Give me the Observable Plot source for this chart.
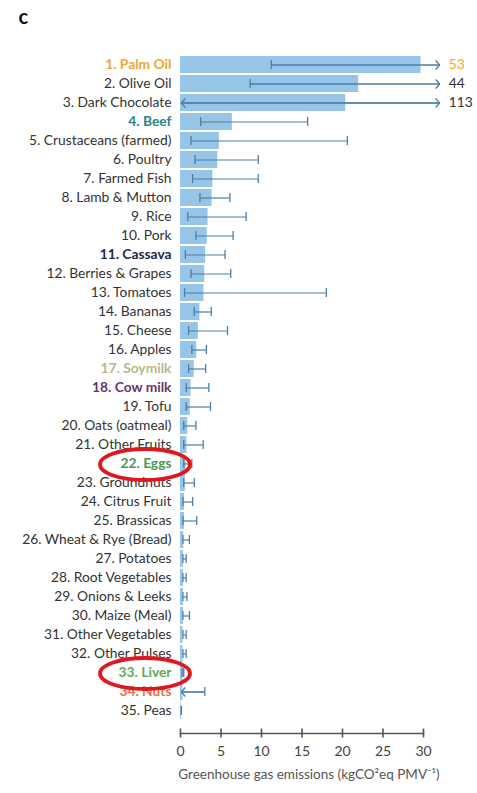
<!DOCTYPE html>
<html>
<head>
<meta charset="utf-8">
<script src="https://cdn.jsdelivr.net/npm/d3@7"></script>
<script src="https://cdn.jsdelivr.net/npm/@observablehq/plot@0.6"></script>
<style>
  html, body { margin: 0; padding: 0; background: #fff; }
</style>
</head>
<body>
<div id="chart"></div>
<script>
// Foods ranked by greenhouse gas emissions per PMV
const foods = [
  "1. Palm Oil", "2. Olive Oil", "3. Dark Chocolate", "4. Beef",
  "5. Crustaceans (farmed)", "6. Poultry", "7. Farmed Fish", "8. Lamb & Mutton",
  "9. Rice", "10. Pork", "11. Cassava", "12. Berries & Grapes",
  "13. Tomatoes", "14. Bananas", "15. Cheese", "16. Apples",
  "17. Soymilk", "18. Cow milk", "19. Tofu", "20. Oats (oatmeal)",
  "21. Other Fruits", "22. Eggs", "23. Groundnuts", "24. Citrus Fruit",
  "25. Brassicas", "26. Wheat & Rye (Bread)", "27. Potatoes", "28. Root Vegetables",
  "29. Onions & Leeks", "30. Maize (Meal)", "31. Other Vegetables", "32. Other Pulses",
  "33. Liver", "34. Nuts", "35. Peas"
];

// Central estimate (bar) and the low / high ends of the range (whisker)
const emissions = [
  29.7, 22.0, 20.4, 6.4, 4.8, 4.6, 4.0, 3.9,
  3.4, 3.3, 3.1, 3.0, 2.9, 2.4, 2.2, 2.0,
  1.7, 1.3, 1.2, 0.9, 0.8, 0.7, 0.6, 0.5,
  0.5, 0.4, 0.35, 0.35, 0.35, 0.35, 0.3, 0.3,
  0.3, 0.3, 0.1
];
const lowEnd = [
  11.2, 8.6, -5, 2.5, 1.3, 1.8, 1.5, 2.4,
  0.9, 1.9, 0.6, 1.3, 0.5, 1.7, 1.0, 1.4,
  1.0, 0.7, 0.7, 0.4, 0.4, 0.4, 0.4, 0.3,
  0.3, 0.3, 0.3, 0.3, 0.3, 0.3, 0.3, 0.3,
  0.2, -2, 0.1
];
const highEnd = [
  53, 44, 113, 15.7, 20.6, 9.6, 9.6, 6.1,
  8.1, 6.5, 5.5, 6.2, 18.0, 3.8, 5.8, 3.2,
  3.1, 3.5, 3.7, 1.9, 2.8, 1.4, 1.7, 1.5,
  2.0, 1.1, 0.7, 0.7, 0.8, 1.1, 0.7, 0.7,
  0.4, 3.0, 0.1
];

// Highlighted foods
const highlightColors = {
  "1. Palm Oil": "#f0a733",
  "4. Beef": "#2b8489",
  "11. Cassava": "#1d2a4e",
  "17. Soymilk": "#b7b78e",
  "18. Cow milk": "#6b3567",
  "22. Eggs": "#4a9a4e",
  "33. Liver": "#5aad55",
  "34. Nuts": "#e8704a"
};
const circled = ["22. Eggs", "33. Liver"];

const xTicks = [0, 5, 10, 15, 20, 25, 30];
const axisTitle = "Greenhouse gas emissions (kgCO²eq PMV⁻¹)";

// Whiskers past the axis end are cut off at xCap with an arrow; below zero at xFloor
const xCap = 32;
const xFloor = 0.1;

const rows = foods.map((name, i) => ({
  name,
  value: emissions[i],
  lo: lowEnd[i],
  hi: highEnd[i],
  x1: Math.max(lowEnd[i], xFloor),
  x2: Math.min(highEnd[i], xCap)
}));

const whisker = "#4b7fa9";
const textColor = "#333";

// Open chevron arrowhead for truncated whiskers
function chevron(color) {
  const m = d3.create("svg:marker")
    .attr("viewBox", "-6 -6 12 12")
    .attr("markerWidth", 12)
    .attr("markerHeight", 12)
    .attr("markerUnits", "userSpaceOnUse")
    .attr("orient", "auto-start-reverse");
  m.append("path")
    .attr("d", "M-4,-4.5L0,0L-4,4.5")
    .attr("fill", "none")
    .attr("stroke", color)
    .attr("stroke-width", 1.3);
  return m.node();
}

const plot = Plot.plot({
  width: 477,
  height: 793,
  marginLeft: 180,
  marginRight: 54,
  marginTop: 42,
  marginBottom: 60,
  style: {fontFamily: "Lato, 'Open Sans', sans-serif", fontSize: "13.8px", background: "#fff"},
  x: {domain: [0, 30]},
  y: {domain: foods, paddingInner: 0.12, paddingOuter: 0.225, axis: null},
  marks: [
    Plot.barX(rows, {y: "name", x: "value", fill: "#97c5e7"}),
    Plot.link(rows, {x1: "x1", x2: "x2", y1: "name", y2: "name", stroke: whisker, strokeWidth: 1.2}),
    Plot.tickX(rows.filter(d => d.lo >= 0), {x: "lo", y: "name", stroke: whisker, strokeWidth: 1.3, insetTop: 4, insetBottom: 4}),
    Plot.tickX(rows.filter(d => d.hi <= 30), {x: "hi", y: "name", stroke: whisker, strokeWidth: 1.3, insetTop: 4, insetBottom: 4}),
    Plot.link(rows.filter(d => d.hi > 30), {x1: "x1", x2: "x2", y1: "name", y2: "name", stroke: whisker, strokeWidth: 1.2, markerEnd: chevron}),
    Plot.link(rows.filter(d => d.lo < 0), {x1: "x1", x2: "x2", y1: "name", y2: "name", stroke: whisker, strokeWidth: 1.2, markerStart: chevron}),
    Plot.text(rows.filter(d => d.hi > 30), {
      x: "x2", y: "name", text: d => String(d.hi), dx: 9, textAnchor: "start",
      fill: d => highlightColors[d.name] ?? textColor, fontSize: 13.8
    }),
    // category labels
    Plot.text(rows.filter(d => !(d.name in highlightColors)), {
      y: "name", text: "name", frameAnchor: "left", textAnchor: "end", dx: -9, fill: textColor
    }),
    Plot.text(rows.filter(d => d.name in highlightColors), {
      y: "name", text: "name", frameAnchor: "left", textAnchor: "end", dx: -9,
      fill: d => highlightColors[d.name], fontWeight: "bold"
    }),
    // x axis
    Plot.frame({anchor: "bottom", stroke: "#555", strokeWidth: 1.6}),
    Plot.axisX({ticks: xTicks, tickSize: 9, dy: -4.5, text: null, label: null, stroke: "#555", strokeWidth: 1.6}),
    Plot.axisX({ticks: xTicks, tickSize: 0, tickPadding: 13, label: null, fill: "#444", fontSize: 14}),
    Plot.text([axisTitle], {frameAnchor: "bottom", text: d => d, dy: 45, dx: 7, fill: "#555", fontSize: 13.5}),
    // panel letter
    Plot.text(["c"], {frameAnchor: "top-left", text: d => d, dx: -162, dy: -33, textAnchor: "start", fontWeight: "bold", fontSize: 20, fill: "#111"})
  ]
});

document.getElementById("chart").append(plot);

// Red rings around the circled foods' labels
const yScale = plot.scale("y");
const xScale = plot.scale("x");
const svg = d3.select(plot);
for (const name of circled) {
  const cy = yScale.apply(name) + yScale.bandwidth / 2;
  svg.append("ellipse")
    .attr("cx", xScale.range[0] - 35)
    .attr("cy", cy + 1)
    .attr("rx", 45)
    .attr("ry", 15.5)
    .attr("fill", "none")
    .attr("stroke", "#e0171c")
    .attr("stroke-width", 3.8);
}
</script>
</body>
</html>
